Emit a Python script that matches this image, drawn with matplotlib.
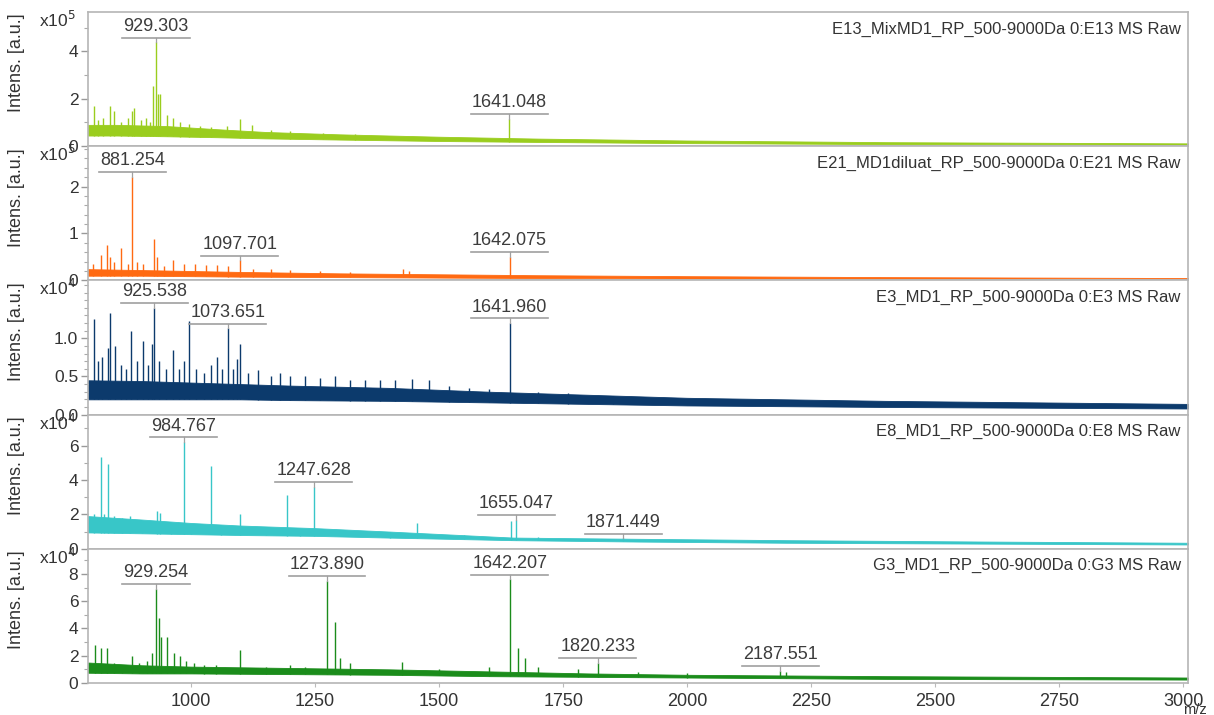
import matplotlib
matplotlib.use("Agg")
import matplotlib.pyplot as plt
import numpy as np
from matplotlib.ticker import MultipleLocator, FixedLocator, FormatStrFormatter

plt.rcParams["font.family"] = ["Liberation Sans", "DejaVu Sans"]

XMIN, XMAX = 792, 3010

TITLES = ["E13_MixMD1_RP_500-9000Da 0:E13 MS Raw",
          "E21_MD1diluat_RP_500-9000Da 0:E21 MS Raw",
          "E3_MD1_RP_500-9000Da 0:E3 MS Raw",
          "E8_MD1_RP_500-9000Da 0:E8 MS Raw",
          "G3_MD1_RP_500-9000Da 0:G3 MS Raw"]
COLORS = ["#9acd1e", "#ff6a12", "#0c3a6c", "#38c6c8", "#1b8c1b"]
EXPONENT = [5, 5, 4, 4, 4]
YTOP = [5.66, 2.86, 1.76, 7.8, 9.85]
YTICKS = [[0, 2, 4], [0, 1, 2], [0.0, 0.5, 1.0], [0, 2, 4, 6], [0, 2, 4, 6, 8]]
YMINOR = [1, 0.2, 0.1, 1, 1]

# peaks (m/z, intensity in units of 10^EXPONENT)
peaks1_mz = [804, 812, 822, 837, 845, 858, 872, 881, 885, 898, 909, 917, 923, 929.303, 933, 937, 952,
             964, 978, 995, 1018, 1040, 1073, 1099, 1123, 1160, 1200, 1265, 1330, 1641.048]
peaks1_h = [1.7, 1.1, 1.2, 1.7, 1.5, 1.0, 1.2, 1.5, 1.6, 1.1, 1.2, 1.0, 2.55, 4.38, 2.2, 2.2, 1.3,
            1.2, 1.0, 0.95, 0.85, 0.8, 0.85, 1.15, 0.9, 0.7, 0.65, 0.55, 0.5, 1.15]
peaks2_mz = [803, 818, 831, 837, 845, 859, 872, 881.254, 890, 903, 925, 931, 946, 964, 985, 1008, 1030,
             1052, 1074, 1097.701, 1125, 1160, 1200, 1260, 1320, 1427, 1440, 1642.075]
peaks2_h = [0.35, 0.55, 0.75, 0.5, 0.4, 0.7, 0.35, 2.21, 0.4, 0.35, 0.88, 0.5, 0.3, 0.43, 0.35, 0.35, 0.32,
            0.33, 0.3, 0.43, 0.25, 0.25, 0.22, 0.2, 0.18, 0.24, 0.2, 0.5]
peaks3_mz = [804, 812, 820, 833, 837, 847, 858, 868, 879, 890, 903, 912, 921, 925.538, 935, 950, 964, 975,
             985, 996, 1010, 1025, 1040, 1052, 1062, 1073.651, 1085, 1093, 1099, 1115, 1135, 1160, 1179,
             1200, 1230, 1260, 1290, 1320, 1350, 1380, 1410, 1445, 1480, 1520, 1560, 1600, 1641.960, 1700,
             1760, 1850]
peaks3_h = [1.25, 0.7, 0.75, 0.87, 1.33, 0.9, 0.65, 0.6, 1.09, 0.7, 0.96, 0.65, 0.93, 1.4, 0.7, 0.6, 0.85,
            0.6, 0.7, 1.23, 0.6, 0.55, 0.65, 0.75, 0.6, 1.13, 0.6, 0.73, 0.93, 0.55, 0.58, 0.5, 0.55, 0.5,
            0.5, 0.48, 0.5, 0.45, 0.45, 0.45, 0.45, 0.47, 0.45, 0.38, 0.35, 0.33, 1.2, 0.3, 0.28, 0.25]
peaks4_mz = [805, 818, 825, 833, 845, 860, 877, 900, 931, 937, 960, 984.767, 1000, 1040, 1060, 1099, 1150,
             1193, 1220, 1247.628, 1300, 1400, 1455, 1550, 1645, 1655.047, 1700, 1871.449]
peaks4_h = [2.0, 5.35, 2.0, 4.9, 1.9, 1.8, 1.9, 1.6, 2.2, 2.1, 1.5, 6.2, 1.4, 4.8, 1.3, 2.05, 1.2, 3.1,
            1.1, 3.6, 1.0, 1.0, 1.5, 0.8, 1.6, 1.7, 0.7, 0.6]
peaks5_mz = [806, 818, 831, 845, 860, 881, 895, 910, 922, 929.254, 935, 940, 952, 965, 978, 990, 1005,
             1025, 1050, 1099, 1150, 1200, 1230, 1273.890, 1290, 1300, 1320, 1425, 1500, 1600, 1642.207,
             1659, 1673, 1700, 1780, 1820.233, 1900, 2000, 2187.551, 2200]
peaks5_h = [2.8, 2.6, 2.6, 1.5, 1.3, 1.95, 1.5, 1.6, 2.2, 6.9, 4.8, 3.4, 3.4, 2.2, 1.95, 1.6, 1.5, 1.3,
            1.3, 2.45, 1.2, 1.3, 1.2, 7.5, 4.45, 1.8, 1.5, 1.55, 1.0, 1.2, 7.6, 2.6, 1.8, 1.2, 1.0, 1.5,
            0.8, 0.7, 0.9, 0.8]

# noise band of the baseline (m/z, lower edge, upper edge)
base1_mz = [792, 850, 950, 1050, 1150, 1300, 1500, 1700, 2000, 2400, 3010]
base1_lo = [0.45, 0.45, 0.42, 0.38, 0.33, 0.28, 0.22, 0.18, 0.13, 0.09, 0.07]
base1_hi = [0.9, 0.9, 0.85, 0.72, 0.6, 0.5, 0.4, 0.32, 0.24, 0.17, 0.12]
base2_mz = [792, 900, 1000, 1100, 1300, 1500, 1700, 2000, 2400, 3010]
base2_lo = [0.10, 0.10, 0.09, 0.08, 0.07, 0.06, 0.05, 0.04, 0.03, 0.02]
base2_hi = [0.24, 0.22, 0.2, 0.18, 0.15, 0.13, 0.11, 0.09, 0.07, 0.05]
base3_mz = [792, 900, 1000, 1100, 1200, 1400, 1600, 1800, 2000, 2400, 3010]
base3_lo = [0.2, 0.2, 0.2, 0.2, 0.19, 0.18, 0.16, 0.14, 0.12, 0.1, 0.08]
base3_hi = [0.45, 0.44, 0.42, 0.4, 0.38, 0.35, 0.3, 0.26, 0.22, 0.18, 0.14]
base4_mz = [792, 900, 1000, 1100, 1250, 1400, 1650, 1900, 2200, 2600, 3010]
base4_lo = [0.95, 0.9, 0.85, 0.8, 0.75, 0.65, 0.5, 0.42, 0.35, 0.3, 0.25]
base4_hi = [1.9, 1.7, 1.5, 1.35, 1.2, 1.0, 0.65, 0.58, 0.5, 0.42, 0.35]
base5_mz = [792, 900, 1000, 1200, 1400, 1600, 1800, 2000, 2400, 3010]
base5_lo = [0.75, 0.7, 0.7, 0.65, 0.6, 0.5, 0.45, 0.4, 0.3, 0.25]
base5_hi = [1.5, 1.3, 1.2, 1.1, 1.0, 0.85, 0.7, 0.6, 0.5, 0.4]

labels1 = ["929.303", "1641.048"]
labels2 = ["881.254", "1097.701", "1642.075"]
labels3 = ["925.538", "1073.651", "1641.960"]
labels4 = ["984.767", "1247.628", "1655.047", "1871.449"]
labels5 = ["929.254", "1273.890", "1642.207", "1820.233", "2187.551"]

PEAKS = [(peaks1_mz, peaks1_h), (peaks2_mz, peaks2_h), (peaks3_mz, peaks3_h),
         (peaks4_mz, peaks4_h), (peaks5_mz, peaks5_h)]
BASES = [(base1_mz, base1_lo, base1_hi), (base2_mz, base2_lo, base2_hi), (base3_mz, base3_lo, base3_hi),
         (base4_mz, base4_lo, base4_hi), (base5_mz, base5_lo, base5_hi)]
LABELS = [labels1, labels2, labels3, labels4, labels5]

fig, axes = plt.subplots(5, 1, figsize=(12.14, 7.15), dpi=100, sharex=True,
                         gridspec_kw=dict(hspace=0, left=0.0725, right=0.9786, top=0.9832, bottom=0.0448))

for i, ax in enumerate(axes):
    mz, h = PEAKS[i]
    bmz, blo, bhi = BASES[i]
    c = COLORS[i]
    ax.fill_between(bmz, blo, bhi, color=c, lw=0.6, edgecolor=c)
    ymin = np.interp(mz, bmz, blo)
    ax.vlines(mz, ymin, h, color=c, lw=1.0)

    ax.set_xlim(XMIN, XMAX)
    ax.set_ylim(0, YTOP[i])
    ax.yaxis.set_major_locator(FixedLocator(YTICKS[i]))
    ax.yaxis.set_minor_locator(MultipleLocator(YMINOR[i]))
    ax.yaxis.set_major_formatter(FormatStrFormatter("%.1f" if i == 2 else "%d"))
    ax.tick_params(axis="y", which="major", length=5, width=1, color="#999999",
                   labelsize=12.5, labelcolor="#333333", pad=2)
    ax.tick_params(axis="y", which="minor", length=3, width=0.8, color="#aaaaaa")
    ax.tick_params(axis="x", which="major", length=3, color="#bbbbbb",
                   labelsize=13, labelcolor="#333333", pad=4)
    for s in ax.spines.values():
        s.set_color("#b5b5b5")
        s.set_linewidth(1.2)

    ax.set_ylabel("Intens. [a.u.]", fontsize=13, color="#333333")
    ax.yaxis.set_label_coords(-0.057, 0.62)
    ax.text(-0.028, 0.94, "x10$^{%d}$" % EXPONENT[i], transform=ax.transAxes,
            ha="center", va="center", fontsize=12.5, color="#333333")
    ax.text(0.9935, 0.93, TITLES[i], transform=ax.transAxes, ha="right", va="top",
            fontsize=12, color="#333333")

    # peak annotations
    for lab in LABELS[i]:
        x = float(lab)
        ph = h[mz.index(x)]
        uy = ph + 0.035 * YTOP[i]
        half = len(lab) * 9.7
        ax.plot([x - half, x + half], [uy, uy], color="#a0a0a0", lw=1.2)
        ax.plot([x, x], [ph, uy], color="#a0a0a0", lw=0.9)
        ax.annotate(lab, (x, uy), xytext=(0, 2), textcoords="offset points",
                    ha="center", va="bottom", fontsize=13, color="#3c3c3c")

axes[-1].xaxis.set_major_locator(MultipleLocator(250))
axes[-1].text(1.006, -0.2, "m/z", transform=axes[-1].transAxes, ha="center", va="center",
              fontsize=10.5, color="#333333")

plt.savefig("out.png", dpi=100)
